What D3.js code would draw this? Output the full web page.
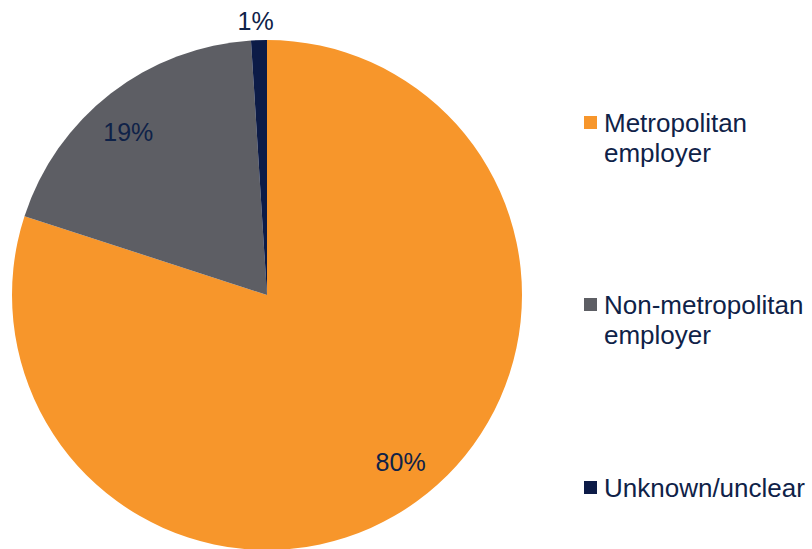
<!DOCTYPE html>
<html>
<head>
<meta charset="utf-8">
<script src="https://cdn.jsdelivr.net/npm/d3@7"></script>
<style>
  body { margin: 0; background: #fff; }
  svg text { font-family: "Liberation Sans", Arial, sans-serif; }
</style>
</head>
<body>
<svg id="chart"></svg>
<script>
// Data
const categories = ["Metropolitan employer", "Non-metropolitan employer", "Unknown/unclear"];
const values = [80, 19, 1];
const labels = ["80%", "19%", "1%"];
const legendLines = [["Metropolitan", "employer"], ["Non-metropolitan", "employer"], ["Unknown/unclear"]];
const colors = ["#f7962b", "#5d5e64", "#0c1b47"];

const svgWidth = 812;
const svgHeight = 549;
const textColor = "#0f2248";

const svg = d3.select("#chart")
    .attr("width", svgWidth)
    .attr("height", svgHeight);

// Pie
const cx = 267, cy = 295, radius = 255;
const pieGroup = svg.append("g")
    .attr("transform", `translate(${cx},${cy})`);

const pie = d3.pie().sort(null).value(d => d);
const arcs = pie(values);
const arc = d3.arc().innerRadius(0).outerRadius(radius);

// label position: slightly rotated back from the mid angle, small slices go outside
function labelPos(d) {
    const small = d.data < 5;
    const a = (d.startAngle + d.endAngle) / 2 - (small ? 0.01 : 0.047);
    const r = radius * (small ? 1.075 : 0.838);
    return [r * Math.sin(a), -r * Math.cos(a)];
}

pieGroup.selectAll("path")
    .data(arcs)
    .enter()
    .append("path")
    .attr("d", arc)
    .attr("fill", (d, i) => colors[i]);

pieGroup.selectAll(".label")
    .data(arcs)
    .enter()
    .append("text")
    .attr("class", "label")
    .attr("transform", d => `translate(${labelPos(d)})`)
    .attr("text-anchor", "middle")
    .attr("dy", "0.36em")
    .attr("font-size", 25)
    .attr("fill", textColor)
    .text((d, i) => labels[i]);

// Legend
const legendX = 584;
const legendY = [132, 314, 497]; // baselines of first line
const lineGap = 30;

const legend = svg.append("g");
categories.forEach((c, i) => {
    const g = legend.append("g");
    g.append("rect")
        .attr("x", legendX)
        .attr("y", legendY[i] - 16)
        .attr("width", 13)
        .attr("height", 13)
        .attr("fill", colors[i]);
    const t = g.append("text")
        .attr("x", legendX + 20)
        .attr("y", legendY[i])
        .attr("font-size", 26)
        .attr("fill", textColor);
    legendLines[i].forEach((line, j) => {
        t.append("tspan")
            .attr("x", legendX + 20)
            .attr("dy", j === 0 ? 0 : lineGap)
            .text(line);
    });
});
</script>
</body>
</html>
